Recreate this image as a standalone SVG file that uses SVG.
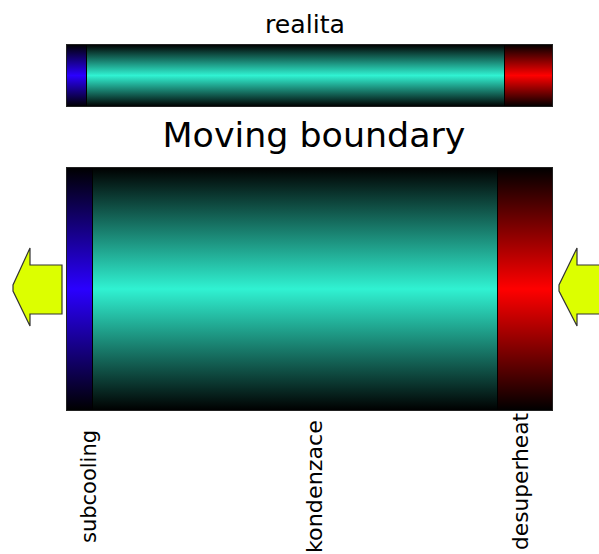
<svg xmlns="http://www.w3.org/2000/svg" width="599" height="554" viewBox="0 0 599 554">
<style>
.t{font-family:"DejaVu Sans","Liberation Sans",sans-serif;fill:#000}
.sec{stroke:#000;stroke-width:1}
.arrow{fill:#dcff00;stroke:#333;stroke-width:1.2;stroke-linejoin:miter}
</style>
<defs>
<linearGradient id="gT" x1="0" y1="0" x2="0" y2="1">
<stop offset="0" stop-color="#000"/><stop offset="0.5" stop-color="#30f2d2"/><stop offset="1" stop-color="#000"/>
</linearGradient>
<linearGradient id="gB" x1="0" y1="0" x2="0" y2="1">
<stop offset="0" stop-color="#000"/><stop offset="0.5" stop-color="#2a00ff"/><stop offset="1" stop-color="#000"/>
</linearGradient>
<linearGradient id="gR" x1="0" y1="0" x2="0" y2="1">
<stop offset="0" stop-color="#000"/><stop offset="0.5" stop-color="#ff0000"/><stop offset="1" stop-color="#000"/>
</linearGradient>
</defs>
<g id="title-realita"><text class="t" x="305" y="33" font-size="25" text-anchor="middle" textLength="80" lengthAdjust="spacingAndGlyphs">realita</text></g>
<g id="bar-realita">
<rect class="sec" x="66.5" y="44.5" width="20" height="62" fill="url(#gB)"/>
<rect class="sec" x="86.5" y="44.5" width="418" height="62" fill="url(#gT)"/>
<rect class="sec" x="504.5" y="44.5" width="48" height="62" fill="url(#gR)"/>
<rect x="66.5" y="44.5" width="486" height="62" fill="none" stroke="#222" stroke-width="1"/>
</g>
<g id="title-moving"><text class="t" x="314" y="147" font-size="33" text-anchor="middle" textLength="303" lengthAdjust="spacingAndGlyphs">Moving boundary</text></g>
<g id="block-moving">
<rect class="sec" x="66.5" y="167.5" width="26" height="243" fill="url(#gB)"/>
<rect class="sec" x="92.5" y="167.5" width="405" height="243" fill="url(#gT)"/>
<rect class="sec" x="497.5" y="167.5" width="55" height="243" fill="url(#gR)"/>
<rect x="66.5" y="167.5" width="486" height="243" fill="none" stroke="#222" stroke-width="1"/>
</g>
<g id="connectors">
<polygon id="arrow-out" class="arrow" points="62,265 30,265 30,248 13,285 13,291 30,326 30,314 62,314"/>
<polygon id="arrow-in" class="arrow" points="600,265 577,265 577,248 559,285 559,291 577,326 577,314 600,314"/>
</g>
<g id="label-subcooling"><text class="t" font-size="21" transform="translate(96,543) rotate(-90)" textLength="113" lengthAdjust="spacingAndGlyphs">subcooling</text></g>
<g id="label-kondenzace"><text class="t" font-size="21" transform="translate(322,553) rotate(-90)" textLength="133" lengthAdjust="spacingAndGlyphs">kondenzace</text></g>
<g id="label-desuperheat"><text class="t" font-size="21" transform="translate(528,550) rotate(-90)" textLength="137" lengthAdjust="spacingAndGlyphs">desuperheat</text></g>
</svg>
